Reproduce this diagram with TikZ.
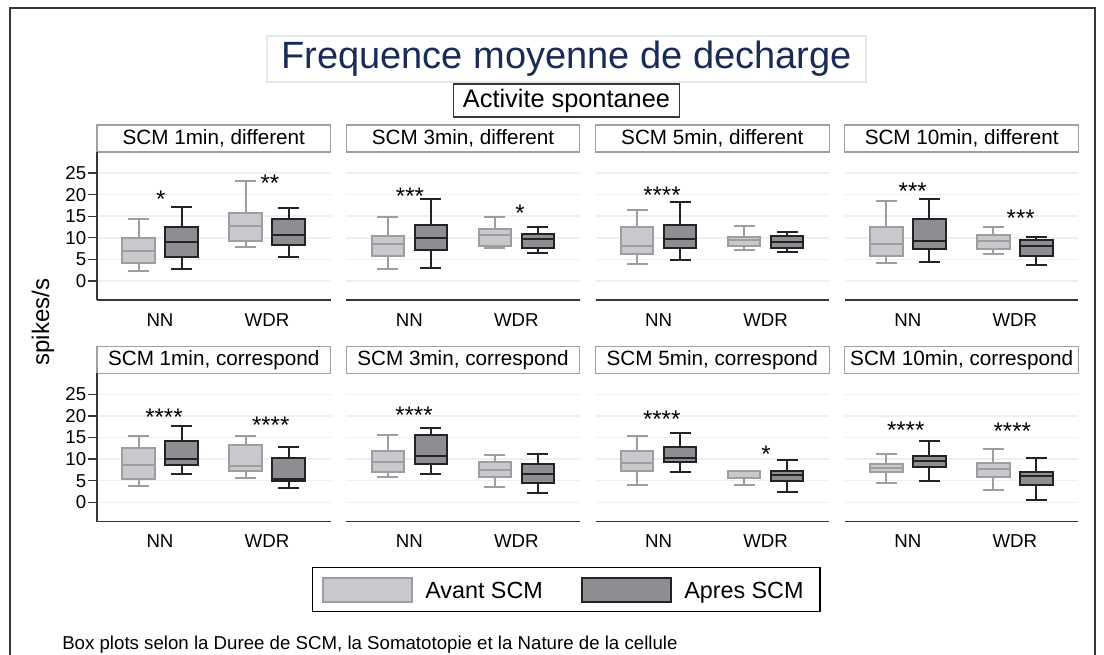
\documentclass[tikz,border=0pt]{standalone}
\usepackage{fontspec}
\setmainfont{Liberation Sans}
\definecolor{avantfill}{RGB}{200,201,204}
\definecolor{avantline}{RGB}{158,158,160}
\definecolor{apresfill}{RGB}{141,142,146}
\definecolor{apresline}{RGB}{35,35,38}
\definecolor{gridblue}{RGB}{232,241,246}
\definecolor{titleblue}{RGB}{26,43,86}
\definecolor{titleline}{RGB}{222,233,240}
\definecolor{hdrline}{RGB}{160,160,160}
\definecolor{axisgray}{RGB}{55,55,55}
\tikzset{
  avant/.style={draw=avantline,fill=avantfill,line width=1.5pt},
  apres/.style={draw=apresline,fill=apresfill,line width=1.5pt},
  stars/.style={anchor=base,inner sep=0pt,font=\fontsize{18}{20}\selectfont},
  catlbl/.style={inner sep=0pt,font=\fontsize{14}{16}\selectfont},
  ticklbl/.style={inner sep=0pt,anchor=east,font=\fontsize{14}{16}\selectfont},
  hdrtxt/.style={inner sep=0pt,font=\fontsize{15.5}{17}\selectfont},
  legtxt/.style={anchor=base west,inner sep=0pt,font=\fontsize{17.5}{19}\selectfont}
}
\newcommand{\boxpl}[8]{%
  \draw[#3,fill=none] ({#1},{#2-4.32*(#4)}) -- ({#1},{#2-4.32*(#8)});
  \draw[#3,fill=none] ({#1-10.5},{#2-4.32*(#4)}) -- ({#1+10.5},{#2-4.32*(#4)});
  \draw[#3,fill=none] ({#1-10.5},{#2-4.32*(#8)}) -- ({#1+10.5},{#2-4.32*(#8)});
  \draw[#3] ({#1-16.3},{#2-4.32*(#5)}) rectangle ({#1+16.3},{#2-4.32*(#7)});
  \draw[#3,fill=none] ({#1-16.3},{#2-4.32*(#6)}) -- ({#1+16.3},{#2-4.32*(#6)});
}
\begin{document}
\begin{tikzpicture}[x=0.75pt,y=-0.75pt]
\useasboundingbox (0,0) rectangle (1104,655);
\draw[axisgray,line width=1.5pt] (9.5,660) -- (9.5,8.5) -- (1095,8.5) -- (1095,660);
\draw[titleline,line width=0.8pt] (267,36) rectangle (866,82);
\node[text=titleblue,inner sep=0pt,font=\fontsize{28.5}{31}\selectfont] (title) at (566.5,59) {Frequence moyenne de decharge};
\node[draw=axisgray,line width=0.8pt,minimum width=170pt,minimum height=24.75pt,inner sep=0pt,font=\fontsize{19}{21}\selectfont] (subtitle) at (566.5,100.5) {Activite spontanee};
\foreach \r/\kind [count=\k] in {281/different,502.3/correspond} {
  \foreach \dur [count=\c from 0] in {1,3,5,10} {
    \pgfmathsetmacro{\xl}{97+249.3*\c}
    \foreach \v in {0,5,...,25}
      \draw[gridblue,line width=1.1pt] (\xl,{\r-4.32*\v}) -- ({\xl+233.5},{\r-4.32*\v});
    \draw[axisgray,line width=1.2pt] (\xl,{\r+19.3}) -- ({\xl+233.5},{\r+19.3});
    \draw[hdrline,line width=0.8pt] (\xl,{\r-156}) rectangle ({\xl+233.5},{\r-129});
    \node[hdrtxt] (hdr-\k-\c) at ({\xl+116.75},{\r-142.5}) {SCM \dur min, \kind};
    \node[catlbl] (nn-\k-\c) at ({\xl+63},{\r+39}) {NN};
    \node[catlbl] (wdr-\k-\c) at ({\xl+170},{\r+39}) {WDR};
  }
  \draw[axisgray,line width=1.2pt] (97,{\r-129}) -- (97,{\r+19.3});
  \foreach \v in {0,5,...,25} {
    \draw[axisgray,line width=1pt] (88,{\r-4.32*\v}) -- (97,{\r-4.32*\v});
    \node[ticklbl] (tick-\k-\v) at (86.5,{\r-4.32*\v}) {\v};
  }
}
\node[rotate=90,inner sep=0pt,font=\fontsize{18}{20}\selectfont] (ylabel) at (43,322) {spikes/s};
\boxpl{138.5}{281}{avant}{2.2}{4.1}{7.0}{9.9}{14.4}
\boxpl{181.5}{281}{apres}{2.8}{5.6}{9.0}{12.6}{17.2}
\boxpl{245.5}{281}{avant}{7.9}{9.2}{12.8}{15.8}{23.1}
\boxpl{288.5}{281}{apres}{5.6}{8.4}{10.7}{14.3}{16.8}
\boxpl{387.8}{281}{avant}{2.8}{5.9}{8.5}{10.4}{14.8}
\boxpl{430.8}{281}{apres}{3.1}{7.1}{10.0}{12.9}{19.0}
\boxpl{494.8}{281}{avant}{7.6}{8.2}{10.6}{12.1}{14.8}
\boxpl{537.8}{281}{apres}{6.5}{7.6}{9.7}{10.9}{12.5}
\boxpl{637.1}{281}{avant}{4.0}{6.2}{8.0}{12.5}{16.4}
\boxpl{680.1}{281}{apres}{4.9}{7.6}{9.7}{12.9}{18.4}
\boxpl{744.1}{281}{avant}{7.2}{8.0}{9.6}{10.2}{12.8}
\boxpl{787.1}{281}{apres}{6.6}{7.7}{9.0}{10.5}{11.3}
\boxpl{886.4}{281}{avant}{4.2}{5.9}{8.5}{12.6}{18.6}
\boxpl{929.4}{281}{apres}{4.5}{7.4}{9.3}{14.4}{18.9}
\boxpl{993.4}{281}{avant}{6.2}{7.5}{9.3}{10.6}{12.5}
\boxpl{1036.4}{281}{apres}{3.7}{5.9}{8.1}{9.5}{10.2}
\boxpl{138.5}{502.3}{avant}{3.8}{5.5}{8.6}{12.6}{15.3}
\boxpl{181.5}{502.3}{apres}{6.5}{8.6}{10.1}{14.3}{17.7}
\boxpl{245.5}{502.3}{avant}{5.7}{7.3}{8.3}{13.3}{15.4}
\boxpl{288.5}{502.3}{apres}{3.4}{5.0}{5.3}{10.2}{12.7}
\boxpl{387.8}{502.3}{avant}{5.9}{7.0}{9.3}{11.9}{15.6}
\boxpl{430.8}{502.3}{apres}{6.6}{8.9}{10.8}{15.6}{17.1}
\boxpl{494.8}{502.3}{avant}{3.5}{5.9}{7.4}{9.3}{10.9}
\boxpl{537.8}{502.3}{apres}{2.1}{4.4}{6.5}{8.9}{11.2}
\boxpl{637.1}{502.3}{avant}{4.1}{7.2}{9.1}{11.9}{15.3}
\boxpl{680.1}{502.3}{apres}{6.9}{9.3}{10.3}{12.7}{16.0}
\boxpl{744.1}{502.3}{avant}{4.0}{5.6}{7.3}{7.3}{7.3}
\boxpl{787.1}{502.3}{apres}{2.3}{5.0}{6.3}{7.2}{9.9}
\boxpl{886.4}{502.3}{avant}{4.5}{7.0}{8.0}{8.8}{11.1}
\boxpl{929.4}{502.3}{apres}{5.0}{8.1}{9.6}{10.7}{14.1}
\boxpl{993.4}{502.3}{avant}{2.8}{5.8}{7.6}{9.2}{12.4}
\boxpl{1036.4}{502.3}{apres}{0.5}{4.0}{6.1}{6.9}{10.3}
\foreach \sx/\sy/\st [count=\i] in {160.7/194/*,270/178/**,410/190.7/***,520/208/*,662/189.3/****,912.7/185.7/***,1020.7/212.3/***,164/411.7/****,270.7/419.3/****,414/410/****,661.7/414/****,766/448.3/*,905.7/424.3/****,1012.3/425.7/****}
  \node[stars] (sig-\i) at (\sx,{\sy+13.8}) {\st};
\draw[black,line width=1pt] (312.7,567.7) rectangle (820,611.7);
\draw[avant] (323,577.7) rectangle (411.7,601.7);
\node[legtxt] (leg-avant) at (425,598.2) {Avant SCM};
\draw[apres] (581.7,577.7) rectangle (670.7,601.7);
\node[legtxt] (leg-apres) at (684,598.2) {Apres SCM};
\node[anchor=base west,inner sep=0pt,font=\fontsize{14}{16}\selectfont] (note) at (62,650) {Box plots selon la Duree de SCM, la Somatotopie et la Nature de la cellule};
\end{tikzpicture}
\end{document}
